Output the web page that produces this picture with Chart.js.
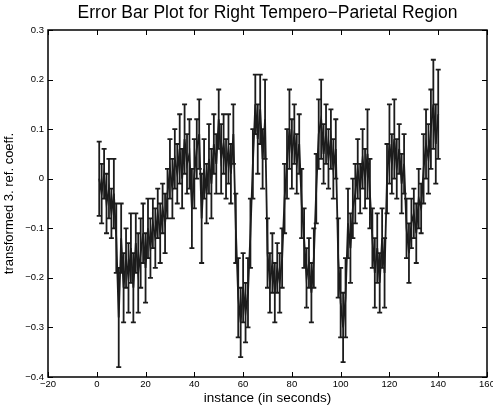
<!DOCTYPE html>
<html>
<head>
<meta charset="utf-8">
<script src="https://cdn.jsdelivr.net/npm/chart.js@4.4.0/dist/chart.umd.min.js"></script>
<style>
  html, body { margin: 0; padding: 0; background: #fff; }
  #wrap { width: 493px; height: 410px; }
</style>
</head>
<body>
<div id="wrap"><canvas id="chart"></canvas></div>
<script>
// Error bar plot, right tempero-parietal region

// mean value per instance (instances 1..140)
const means = [
   0.00, -0.03,  0.01, -0.05, -0.02, -0.07, -0.03, -0.12, -0.28, -0.12,
  -0.22, -0.16, -0.20, -0.14, -0.22, -0.13, -0.19, -0.15, -0.11, -0.18,
  -0.10, -0.14, -0.09, -0.12, -0.07, -0.11, -0.06, -0.09, -0.03,  0.02,
  -0.02,  0.04,  0.01,  0.06,  0.00,  0.08,  0.03,  0.05, -0.06,  0.01,
   0.06,  0.09, -0.08,  0.02, -0.03,  0.04, -0.01,  0.07,  0.03,  0.12,
   0.04,  0.07,  0.02,  0.06,  0.01,  0.09, -0.10, -0.24, -0.29, -0.22,
  -0.27, -0.23, -0.11,  0.03,  0.15,  0.08,  0.14,  0.04,  0.12, -0.15,
  -0.21, -0.17, -0.23, -0.18, -0.21, -0.16, -0.04,  0.03,  0.10,  0.05,
   0.09,  0.03,  0.07, -0.05, -0.12, -0.20, -0.17, -0.23, -0.16, -0.02,
   0.09,  0.12,  0.05,  0.09,  0.04,  0.08,  0.02,  0.06, -0.16, -0.25,
  -0.30, -0.24, -0.09, -0.14, -0.06, -0.03,  0.02, -0.02,  0.04,  0.00,
   0.05, -0.03, -0.12, -0.19, -0.14, -0.21, -0.12, -0.19,  0.00,  0.07,
   0.03,  0.08,  0.02,  0.06, -0.01,  0.03, -0.10, -0.15, -0.09, -0.07,
  -0.11, -0.04, -0.06,  0.02,  0.07,  0.04,  0.10,  0.15,  0.07,  0.13
];

// half length of each error bar
const errors = [
  0.075, 0.06, 0.05, 0.06, 0.06, 0.05, 0.07, 0.07, 0.10, 0.07,
  0.07, 0.06, 0.07, 0.07, 0.07, 0.06, 0.08, 0.07, 0.06, 0.07,
  0.06, 0.06, 0.05, 0.06, 0.05, 0.06, 0.05, 0.06, 0.05, 0.06,
  0.06, 0.06, 0.06, 0.07, 0.06, 0.07, 0.06, 0.07, 0.08, 0.07,
  0.06, 0.07, 0.09, 0.06, 0.06, 0.07, 0.07, 0.06, 0.06, 0.06,
  0.07, 0.06, 0.06, 0.07, 0.06, 0.06, 0.07, 0.08, 0.07, 0.07,
  0.06, 0.07, 0.07, 0.07, 0.06, 0.07, 0.07, 0.06, 0.08, 0.07,
  0.06, 0.06, 0.06, 0.05, 0.06, 0.06, 0.07, 0.07, 0.08, 0.07,
  0.06, 0.06, 0.06, 0.07, 0.06, 0.06, 0.05, 0.06, 0.06, 0.07,
  0.07, 0.08, 0.06, 0.06, 0.06, 0.06, 0.06, 0.06, 0.08, 0.07,
  0.07, 0.08, 0.07, 0.07, 0.06, 0.06, 0.06, 0.05, 0.06, 0.06,
  0.09, 0.07, 0.06, 0.07, 0.07, 0.06, 0.06, 0.07, 0.07, 0.08,
  0.06, 0.08, 0.06, 0.05, 0.06, 0.06, 0.06, 0.06, 0.05, 0.05,
  0.06, 0.06, 0.05, 0.07, 0.07, 0.07, 0.08, 0.09, 0.08, 0.09
];

// sample index along the x axis
const instants = means.map((_, i) => i + 1);

const xTicks = [-20, 0, 20, 40, 60, 80, 100, 120, 140, 160];
const yTicks = [-0.4, -0.3, -0.2, -0.1, 0, 0.1, 0.2, 0.3];

const INK = '#1c1c1c';
const FONT = '"Liberation Sans", Arial, sans-serif';

// matlab style labels use a real minus sign
function fmt(v) {
    const s = String(Math.round(v * 10) / 10);
    return s.replace('-', '\u2212');
}

const errorBars = {
    id: 'errorBars',
    afterDatasetsDraw(chart) {
        const { ctx, scales: { x, y } } = chart;
        ctx.save();
        ctx.strokeStyle = INK;
        ctx.lineWidth = 1.8;
        ctx.beginPath();
        means.forEach((m, i) => {
            const px = x.getPixelForValue(instants[i]);
            const top = y.getPixelForValue(m + errors[i]);
            const bot = y.getPixelForValue(m - errors[i]);
            ctx.moveTo(px, top);
            ctx.lineTo(px, bot);
            ctx.moveTo(px - 2.5, top);
            ctx.lineTo(px + 2.5, top);
            ctx.moveTo(px - 2.5, bot);
            ctx.lineTo(px + 2.5, bot);
        });
        ctx.stroke();
        ctx.restore();
    }
};

// box around the axes with ticks pointing inwards on all four sides
const axesBox = {
    id: 'axesBox',
    afterDraw(chart) {
        const { ctx, chartArea: a, scales: { x, y } } = chart;
        const len = 5;
        ctx.save();
        ctx.strokeStyle = '#000';
        ctx.lineWidth = 1;
        ctx.beginPath();
        xTicks.forEach(v => {
            const px = Math.round(x.getPixelForValue(v)) + 0.5;
            ctx.moveTo(px, a.bottom); ctx.lineTo(px, a.bottom - len);
            ctx.moveTo(px, a.top); ctx.lineTo(px, a.top + len);
        });
        yTicks.forEach(v => {
            const py = Math.round(y.getPixelForValue(v)) + 0.5;
            ctx.moveTo(a.left, py); ctx.lineTo(a.left + len, py);
            ctx.moveTo(a.right, py); ctx.lineTo(a.right - len, py);
        });
        ctx.stroke();
        ctx.lineWidth = 1.5;
        ctx.strokeRect(a.left, a.top, a.right - a.left, a.bottom - a.top);
        ctx.restore();
    }
};

new Chart(document.getElementById('chart'), {
    type: 'line',
    data: {
        datasets: [{
            data: instants.map((t, i) => ({ x: t, y: means[i] })),
            borderColor: INK,
            borderWidth: 1.8,
            pointRadius: 0,
            tension: 0,
            fill: false
        }]
    },
    options: {
        responsive: true,
        maintainAspectRatio: false,
        animation: false,
        events: [],
        layout: { padding: { top: 0, right: 6, bottom: 0, left: 0 } },
        plugins: {
            legend: { display: false },
            tooltip: { enabled: false },
            title: {
                display: true,
                fullSize: false,
                text: 'Error Bar Plot for Right Tempero\u2212Parietal Region',
                color: '#000',
                font: { family: FONT, size: 17.5, weight: 'normal', lineHeight: 1.2 },
                padding: { top: 2.3, bottom: 6.7 }
            }
        },
        scales: {
            x: {
                type: 'linear',
                min: -20,
                max: 160,
                afterBuildTicks: s => { s.ticks = xTicks.map(v => ({ value: v })); },
                afterFit: s => { s.height = 33; s.paddingLeft = 0; s.paddingRight = 0; },
                grid: { display: false, drawTicks: false },
                border: { display: false },
                ticks: {
                    autoSkip: false,
                    maxRotation: 0,
                    padding: 2,
                    color: '#000',
                    font: { family: FONT, size: 9.5 },
                    callback: v => fmt(v)
                },
                title: {
                    display: true,
                    text: 'instance (in seconds)',
                    color: '#000',
                    font: { family: FONT, size: 13.5 },
                    padding: { top: 0, bottom: 4 }
                }
            },
            y: {
                min: -0.4,
                max: 0.3,
                afterBuildTicks: s => { s.ticks = yTicks.map(v => ({ value: v })); },
                afterFit: s => { s.width = 48; s.paddingTop = 0; s.paddingBottom = 0; },
                grid: { display: false, drawTicks: false },
                border: { display: false },
                ticks: {
                    padding: 4,
                    color: '#000',
                    font: { family: FONT, size: 9.5 },
                    callback: v => fmt(v)
                },
                title: {
                    display: true,
                    text: 'transformed 3. ref. coeff.',
                    color: '#000',
                    font: { family: FONT, size: 13 },
                    padding: { top: 2, bottom: 0 }
                }
            }
        }
    },
    plugins: [errorBars, axesBox]
});
</script>
</body>
</html>
